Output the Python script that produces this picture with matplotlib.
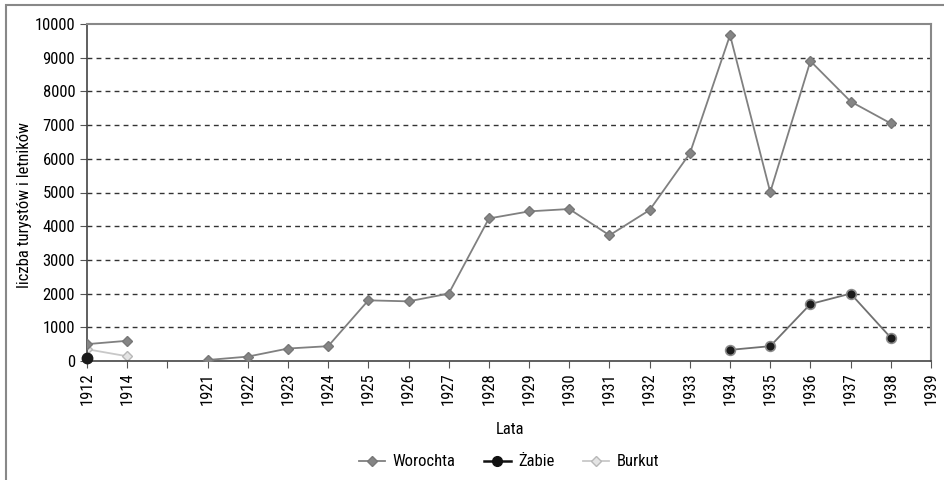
import matplotlib
matplotlib.use("Agg")
import matplotlib.pyplot as plt
from matplotlib import font_manager
from matplotlib.lines import Line2D
import numpy as np

# pick a narrow sans if one is installed, otherwise fall back
names = {f.name for f in font_manager.fontManager.ttflist}
narrow = [n for n in ['Liberation Sans Narrow', 'Roboto Condensed', 'Open Sans Condensed',
                      'DejaVu Sans Condensed', 'Noto Sans Condensed'] if n in names]
narrow += sorted(n for n in names if ('Narrow' in n or 'Condensed' in n) and n not in narrow)
plt.rcParams['font.family'] = narrow[:1] + ['Liberation Sans', 'DejaVu Sans']
plt.rcParams['font.stretch'] = 'condensed'

# category axis: 1912, 1914, an empty slot, then 1921..1939
years = ['1912', '1914', ''] + [str(y) for y in range(1921, 1940)]

worochta_years = ['1912', '1914', '1921', '1922', '1923', '1924', '1925', '1926',
                  '1927', '1928', '1929', '1930', '1931', '1932', '1933', '1934',
                  '1935', '1936', '1937', '1938']
worochta = [500, 600, 30, 130, 370, 440, 1800, 1770, 2000, 4230, 4440, 4510,
            3730, 4480, 6160, 9670, 5010, 8900, 7700, 7050]

zabie_years_a = ['1912']
zabie_a = [90]
zabie_years_b = ['1934', '1935', '1936', '1937', '1938']
zabie_b = [330, 440, 1690, 2000, 690]

burkut_years = ['1912', '1914']
burkut = [350, 140]

pos = {y: i for i, y in enumerate(years)}


def xs(labels):
    return [pos[l] for l in labels]


fig = plt.figure(figsize=(9.44, 4.8), dpi=100)
ax = fig.add_axes([87 / 944, 1 - 361 / 480, (931 - 87) / 944, (361 - 24) / 480])

# Worochta: split at the gap between 1914 and 1921
wx = xs(worochta_years)
ax.plot(wx[:2], worochta[:2], color='#808080', lw=1.3, marker='D', ms=5.5,
        mfc='#858585', mec='#777777', zorder=3)
ax.plot(wx[2:], worochta[2:], color='#808080', lw=1.3, marker='D', ms=5.5,
        mfc='#858585', mec='#777777', zorder=3)

ax.plot(xs(burkut_years), burkut, color='#c8c8c8', lw=1.3, marker='D', ms=5.5,
        mfc='#e4e4e4', mec='#b8b8b8', zorder=2)

ax.plot(xs(zabie_years_a), zabie_a, lw=0, marker='o', ms=7.5,
        mfc='#1a1a1a', mec='#1a1a1a', zorder=4, clip_on=False)
ax.plot(xs(zabie_years_b), zabie_b, color='#707070', lw=1.3, marker='o', ms=7,
        mfc='#1a1a1a', mec='#8a8a8a', mew=1.2, zorder=4)

handles = [
    Line2D([], [], color='#808080', lw=1.3, marker='D', ms=5.5, mfc='#858585', mec='#777777'),
    Line2D([], [], color='#111111', lw=1.8, marker='o', ms=7, mfc='#111111', mec='#111111'),
    Line2D([], [], color='#c8c8c8', lw=1.3, marker='D', ms=5.5, mfc='#e4e4e4', mec='#b8b8b8'),
]
fig.legend(handles, ['Worochta', 'Żabie', 'Burkut'], loc='center',
           bbox_to_anchor=(509 / 944, 1 - 462 / 480), ncol=3, frameon=False,
           fontsize=12, handlelength=1.6, columnspacing=1.7, handletextpad=0.45)

ax.set_xlim(0, len(years) - 1)
ax.set_ylim(0, 10000)
ax.set_xticks(range(len(years)))
ax.set_xticklabels(years, rotation=90, fontsize=12)
ax.set_yticks(np.arange(0, 10001, 1000))
ax.tick_params(axis='y', labelsize=12, direction='out', length=5, color='#555555')
ax.tick_params(axis='x', direction='out', length=5, color='#555555', pad=3)

for y in range(1000, 10000, 1000):
    ax.axhline(y, color='#333333', lw=1, ls=(0, (3.5, 3)), zorder=1)

for s in ['left', 'bottom']:
    ax.spines[s].set_color('#444444')
    ax.spines[s].set_linewidth(1.2)
for s in ['top', 'right']:
    ax.spines[s].set_color('#888888')
    ax.spines[s].set_linewidth(1.5)

ax.set_ylabel('liczba turystów i letników', fontsize=12, va='center')
ax.yaxis.set_label_coords((24 - 87) / (931 - 87), (361 - 205) / (361 - 24))
ax.set_xlabel('Lata', fontsize=12, va='center')
ax.xaxis.set_label_coords((510 - 87) / (931 - 87), -(430 - 361) / (361 - 24))

# outer frame (left and top edges visible)
fig.add_artist(plt.Rectangle((6 / 944, -0.05), 1.1, 1 - 5 / 480 + 0.05,
                             transform=fig.transFigure, fill=False,
                             edgecolor='#888888', lw=1.5))

fig.savefig('out.png', dpi=100)
